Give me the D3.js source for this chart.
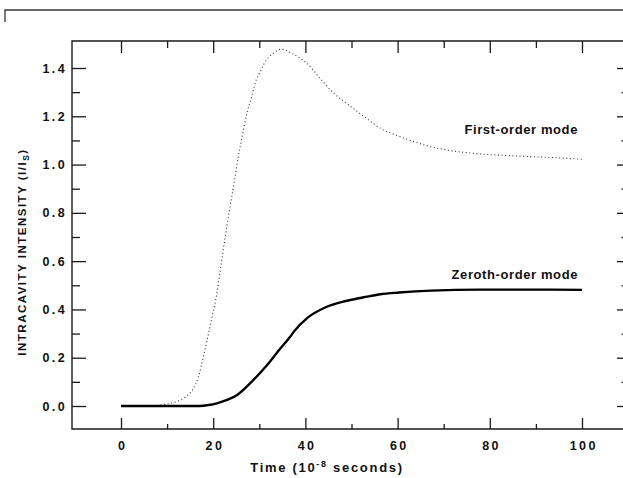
<!DOCTYPE html>
<html>
<head>
<meta charset="utf-8">
<script src="https://cdn.jsdelivr.net/npm/d3@7/dist/d3.min.js"></script>
<style>
  html, body { margin: 0; padding: 0; background: #fff; }
  svg { display: block; }
  text { font-family: "Liberation Sans", Arial, Helvetica, sans-serif; font-weight: bold; fill: #111; }
</style>
</head>
<body>
<svg id="chart" width="623" height="478"></svg>
<script>
// Time axis (10^-8 s) and intensity (I/Is) for the two transverse modes
const firstOrderTime = [0, 5, 8, 10, 12, 14, 15.7, 16.8, 17.8, 18.6, 19.6, 20.7, 21.6, 22.5, 23.5, 24.5, 25.4, 26.4, 27.3, 28.4, 29.2, 30.2, 30.9, 33, 34.9, 37, 38.9, 40.3, 43.2, 46.2, 49.4, 53, 56.3, 60, 63.5, 67, 70.8, 78, 85.3, 92.5, 100];
const firstOrderIntensity = [0, 0, 0.003, 0.008, 0.018, 0.037, 0.073, 0.121, 0.198, 0.266, 0.356, 0.456, 0.570, 0.688, 0.807, 0.920, 1.029, 1.127, 1.212, 1.284, 1.343, 1.385, 1.413, 1.461, 1.478, 1.461, 1.440, 1.420, 1.357, 1.295, 1.247, 1.195, 1.150, 1.120, 1.095, 1.075, 1.060, 1.044, 1.036, 1.030, 1.022];

const zerothOrderTime = [0, 10, 17, 19, 20.8, 23, 25.2, 28, 31.7, 34.6, 36.7, 37.5, 40.5, 44.3, 48.8, 53.4, 56.3, 60.3, 67.2, 78, 90, 100];
const zerothOrderIntensity = [0, 0, 0, 0.004, 0.011, 0.025, 0.046, 0.094, 0.170, 0.239, 0.287, 0.308, 0.366, 0.408, 0.435, 0.453, 0.463, 0.470, 0.478, 0.482, 0.482, 0.481];

const xMajorTicks = [0, 20, 40, 60, 80, 100];
const xMinorTicks = [10, 30, 50, 70, 90];
const yMajorTicks = [0.0, 0.2, 0.4, 0.6, 0.8, 1.0, 1.2, 1.4];
const yMinorTicks = [0.1, 0.3, 0.5, 0.7, 0.9, 1.1, 1.3];

const svg = d3.select("#chart");

// plot frame
const frame = { left: 72, top: 41, right: 630, bottom: 429 };

const x = d3.scaleLinear().domain([0, 100]).range([121, 582]);
const y = d3.scaleLinear().domain([0, 1.4]).range([406, 68]);

const ink = "#1a1a1a";

// outer figure border (top-left corner)
svg.append("path")
  .attr("d", "M5,22V10H623")
  .attr("fill", "none").attr("stroke", "#333").attr("stroke-width", 1.3);

// frame lines
svg.append("path")
  .attr("d", `M${frame.right},${frame.top}H${frame.left}V${frame.bottom}H${frame.right}`)
  .attr("fill", "none").attr("stroke", ink).attr("stroke-width", 1.4);

function styleAxis(g) {
  g.select(".domain").remove();
  g.selectAll(".tick line").attr("stroke", ink).attr("stroke-width", 1.3);
  g.selectAll("text").attr("fill", "#111").attr("font-size", 12.5)
    .attr("font-weight", "bold").attr("font-family", "'Liberation Sans', Arial, sans-serif")
    .style("letter-spacing", "2.4px");
}

// bottom axis
svg.append("g").attr("transform", `translate(0,${frame.bottom})`)
  .call(d3.axisBottom(x).tickValues(xMajorTicks).tickSizeInner(-11).tickSizeOuter(0).tickPadding(12).tickFormat(d3.format("d")))
  .call(styleAxis)
  .selectAll("text").attr("dx", "1.2px");
svg.append("g").attr("transform", `translate(0,${frame.bottom})`)
  .call(d3.axisBottom(x).tickValues(xMinorTicks).tickSizeInner(-5).tickSizeOuter(0).tickFormat(""))
  .call(styleAxis);

// top axis
svg.append("g").attr("transform", `translate(0,${frame.top})`)
  .call(d3.axisTop(x).tickValues(xMajorTicks).tickSizeInner(-12).tickSizeOuter(0).tickFormat(""))
  .call(styleAxis);
svg.append("g").attr("transform", `translate(0,${frame.top})`)
  .call(d3.axisTop(x).tickValues(xMinorTicks).tickSizeInner(-7).tickSizeOuter(0).tickFormat(""))
  .call(styleAxis);

// left axis
svg.append("g").attr("transform", `translate(${frame.left},0)`)
  .call(d3.axisLeft(y).tickValues(yMajorTicks).tickSizeInner(-14).tickSizeOuter(0).tickPadding(5).tickFormat(d3.format(".1f")))
  .call(styleAxis);
svg.append("g").attr("transform", `translate(${frame.left},0)`)
  .call(d3.axisLeft(y).tickValues(yMinorTicks).tickSizeInner(-8).tickSizeOuter(0).tickFormat(""))
  .call(styleAxis);

// right axis
svg.append("g").attr("transform", `translate(${frame.right},0)`)
  .call(d3.axisRight(y).tickValues(yMajorTicks).tickSizeInner(-13).tickSizeOuter(0).tickFormat(""))
  .call(styleAxis);
svg.append("g").attr("transform", `translate(${frame.right},0)`)
  .call(d3.axisRight(y).tickValues(yMinorTicks).tickSizeInner(-8.5).tickSizeOuter(0).tickFormat(""))
  .call(styleAxis);

// curves
const line = d3.line().x(d => x(d[0])).y(d => y(d[1])).curve(d3.curveMonotoneX);

svg.append("path")
  .datum(d3.zip(firstOrderTime, firstOrderIntensity))
  .attr("d", line)
  .attr("fill", "none").attr("stroke", "#333").attr("stroke-width", 1.1)
  .attr("stroke-dasharray", "1 2.6");

svg.append("path")
  .datum(d3.zip(zerothOrderTime, zerothOrderIntensity))
  .attr("d", line)
  .attr("fill", "none").attr("stroke", "#000").attr("stroke-width", 2.4)
  .attr("stroke-linejoin", "round");

// curve labels
svg.append("text").attr("x", 578).attr("y", 133.5).attr("text-anchor", "end")
  .attr("font-size", 13).style("letter-spacing", "0.6px")
  .text("First-order mode");
svg.append("text").attr("x", 578).attr("y", 278.5).attr("text-anchor", "end")
  .attr("font-size", 13).style("letter-spacing", "0.6px")
  .text("Zeroth-order mode");

// x axis title
const xt = svg.append("text").attr("x", 327).attr("y", 472).attr("text-anchor", "middle")
  .attr("font-size", 13).style("letter-spacing", "1.7px");
xt.append("tspan").text("Time (10");
xt.append("tspan").attr("dy", -5).attr("font-size", 9).text("-8");
xt.append("tspan").attr("dy", 5).text(" seconds)");

// y axis title
const yt = svg.append("text")
  .attr("transform", "translate(26,252) rotate(-90)")
  .attr("text-anchor", "middle").attr("font-size", 11.5).style("letter-spacing", "1.5px");
yt.append("tspan").text("INTRACAVITY INTENSITY (I/I");
yt.append("tspan").attr("dy", 3).attr("font-size", 8.5).text("S");
yt.append("tspan").attr("dy", -3).text(")");
</script>
</body>
</html>
